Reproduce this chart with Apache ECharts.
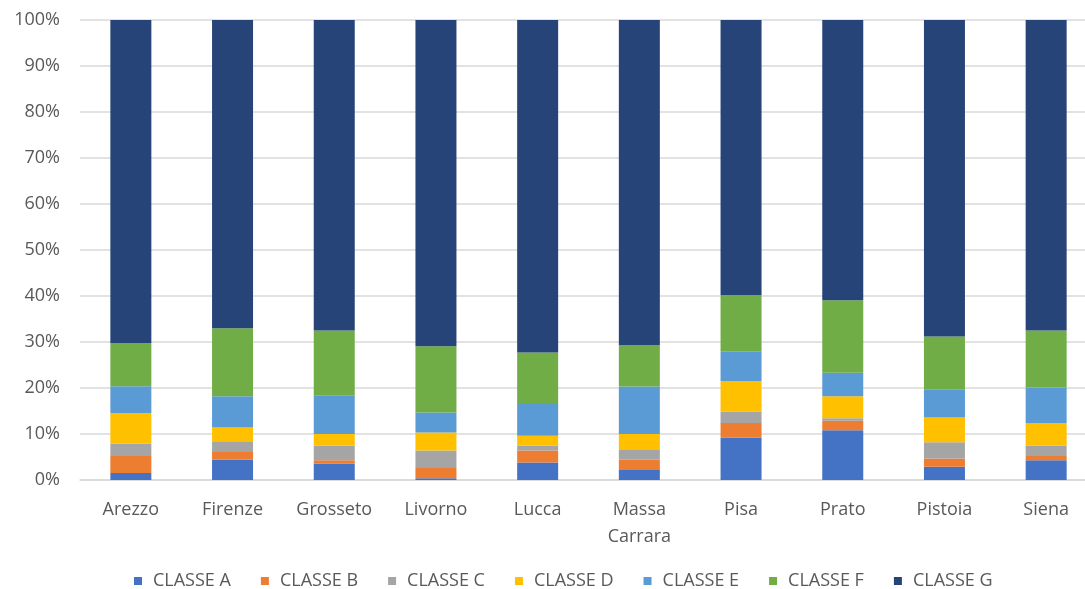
<!DOCTYPE html>
<html>
<head>
<meta charset="utf-8">
<script src="https://cdn.jsdelivr.net/npm/echarts@6/dist/echarts.min.js"></script>
<style>html,body{margin:0;padding:0;background:#fff}#c{width:1085px;height:589px}</style>
</head>
<body>
<div id="c"></div>
<script>
const categories = ['Arezzo','Firenze','Grosseto','Livorno','Lucca','Massa\nCarrara','Pisa','Prato','Pistoia','Siena'];
const seriesNames = ['CLASSE A','CLASSE B','CLASSE C','CLASSE D','CLASSE E','CLASSE F','CLASSE G'];
const classeA = [1.5, 4.4, 3.6, 0.4, 3.8, 2.2, 9.2, 10.8, 2.9, 4.3];
const classeB = [3.7, 1.7, 0.7, 2.2, 2.6, 2.2, 3.2, 2.1, 1.8, 0.9];
const classeC = [2.7, 2.3, 3.2, 3.8, 1.1, 2.1, 2.5, 0.5, 3.5, 2.3];
const classeD = [6.6, 3.0, 2.5, 3.9, 2.1, 3.5, 6.6, 4.8, 5.4, 4.9];
const classeE = [5.9, 6.8, 8.3, 4.4, 6.9, 10.3, 6.4, 5.1, 6.0, 7.7];
const classeF = [9.4, 14.8, 14.2, 14.4, 11.2, 9.0, 12.3, 15.8, 11.6, 12.4];
const classeG = [70.2, 67.0, 67.5, 70.9, 72.3, 70.7, 59.8, 60.9, 68.8, 67.5];
const yTicks = {min: 0, max: 100, interval: 10};
const colors = ['#4472C4','#ED7D31','#A5A5A5','#FFC000','#5B9BD5','#70AD47','#264478'];

const allData = [classeA, classeB, classeC, classeD, classeE, classeF, classeG];
const font = '"Open Sans", "Noto Sans", sans-serif';
const chart = echarts.init(document.getElementById('c'), null, {renderer: 'canvas'});
chart.setOption({
  animation: false,
  color: colors,
  grid: {left: 80, width: 1017, top: 20, height: 460, outerBoundsMode: 'none', containLabel: false},
  legend: {
    top: 572, left: 134, padding: 0,
    itemWidth: 8, itemHeight: 8, itemGap: 30, icon: 'rect',
    textStyle: {fontFamily: font, fontSize: 18, lineHeight: 18, color: '#595959', padding: [0, 0, 0, 6]},
    data: seriesNames
  },
  xAxis: {
    type: 'category', data: categories,
    axisLine: {show: true, lineStyle: {color: '#d9d9d9', width: 1.5}},
    axisTick: {show: false},
    axisLabel: {fontFamily: font, fontSize: 18, color: '#595959', margin: 16, lineHeight: 27, interval: 0}
  },
  yAxis: {
    type: 'value', min: yTicks.min, max: yTicks.max, interval: yTicks.interval,
    axisLine: {show: false}, axisTick: {show: false},
    axisLabel: {fontFamily: font, fontSize: 18, color: '#595959', margin: 20, formatter: '{value}%'},
    splitLine: {lineStyle: {color: '#d9d9d9', width: 1.5}}
  },
  series: seriesNames.map((n, i) => ({
    name: n, type: 'bar', stack: 'total', barWidth: 41,
    data: allData[i], itemStyle: {color: colors[i]}
  }))
});
</script>
</body>
</html>
